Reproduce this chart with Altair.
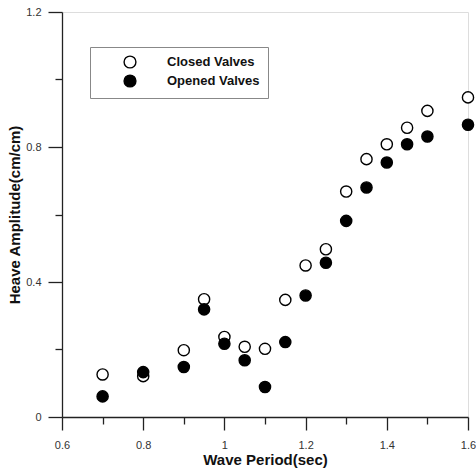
import altair as alt
import pandas as pd

periods = [0.7, 0.8, 0.9, 0.95, 1.0, 1.05, 1.1, 1.15, 1.2, 1.25, 1.3, 1.35, 1.4, 1.45, 1.5, 1.6]
closed = [0.126, 0.121, 0.198, 0.349, 0.237, 0.208, 0.202, 0.347, 0.449, 0.497, 0.668, 0.764, 0.808, 0.857, 0.907, 0.947]
opened = [0.061, 0.133, 0.148, 0.319, 0.217, 0.168, 0.089, 0.222, 0.360, 0.457, 0.581, 0.680, 0.754, 0.808, 0.831, 0.866]
series_names = ["Closed Valves", "Opened Valves"]
x_ticks = [0.6, 0.7, 0.8, 0.9, 1.0, 1.1, 1.2, 1.3, 1.4, 1.5, 1.6]
y_ticks = [0.0, 0.2, 0.4, 0.6, 0.8, 1.0, 1.2]

rows = []
for name, vals in zip(series_names, [closed, opened]):
    for p, v in zip(periods, vals):
        rows.append({"period": p, "amp": v, "series": name})
df = pd.DataFrame(rows)

FONT = "Liberation Sans"
AX = "#222222"

x_axis = alt.Axis(
    values=x_ticks,
    labelExpr="round(datum.value*10) % 2 == 0 ? format(datum.value, '~g') : ''",
    tickSize={"condition": {"test": "round(datum.value*10) % 2 == 0", "value": 13}, "value": 7},
    grid=False, domainColor=AX, tickColor=AX, domainWidth=1.3, tickWidth=1.3,
    labelFont=FONT, labelFontSize=11, labelColor="#333333", labelPadding=9,
    labelOverlap=False, labelFlush=False,
    title="Wave Period(sec)", titleFont=FONT, titleFontSize=15, titleFontWeight="bold",
    titleColor="#111111", titleX=203, titleY=42, titleBaseline="middle", titleAlign="center",
)
y_axis = alt.Axis(
    values=y_ticks,
    labelExpr="round(datum.value*10) % 4 == 0 ? format(datum.value, '~g') : ''",
    tickSize={"condition": {"test": "round(datum.value*10) % 4 == 0", "value": 14}, "value": 7},
    grid=False, domainColor=AX, tickColor=AX, domainWidth=1.3, tickWidth=1.3,
    labelFont=FONT, labelFontSize=11, labelColor="#333333", labelPadding=7,
    labelOverlap=False, labelFlush=False,
    title="Heave Amplitude(cm/cm)", titleFont=FONT, titleFontSize=15, titleFontWeight="bold",
    titleColor="#111111", titleX=-48, titleY=202.5, titleAngle=270,
    titleBaseline="middle", titleAlign="center",
)

chart = alt.Chart(df).mark_point(
    shape="circle", filled=True, size=125, stroke="black", strokeWidth=1.4, opacity=1, clip=False
).encode(
    x=alt.X("period:Q", scale=alt.Scale(domain=[0.6, 1.6], nice=False, zero=False), axis=x_axis),
    y=alt.Y("amp:Q", scale=alt.Scale(domain=[0, 1.2], nice=False), axis=y_axis),
    fill=alt.Fill(
        "series:N",
        scale=alt.Scale(domain=series_names, range=["white", "black"]),
        legend=alt.Legend(
            title=None, orient="none", legendX=28, legendY=35,
            padding=8, strokeColor="#888888", fillColor="white",
            symbolType="circle", symbolSize=140, symbolStrokeColor="black", symbolStrokeWidth=1.4,
            symbolOffset=25, labelOffset=30, rowPadding=1,
            labelFont=FONT, labelFontSize=13, labelFontWeight="bold", labelColor="#111111",
        ),
    ),
    order=alt.Order("series:N"),
).properties(
    width=406, height=405,
    padding={"left": 62, "top": 12, "right": 8, "bottom": 54},
    autosize=alt.AutoSizeParams(type="none"),
).configure_view(
    stroke=AX, strokeWidth=1.3
).configure(background="white")

chart.save("out.html", embed_options={"renderer": "svg", "actions": False})
